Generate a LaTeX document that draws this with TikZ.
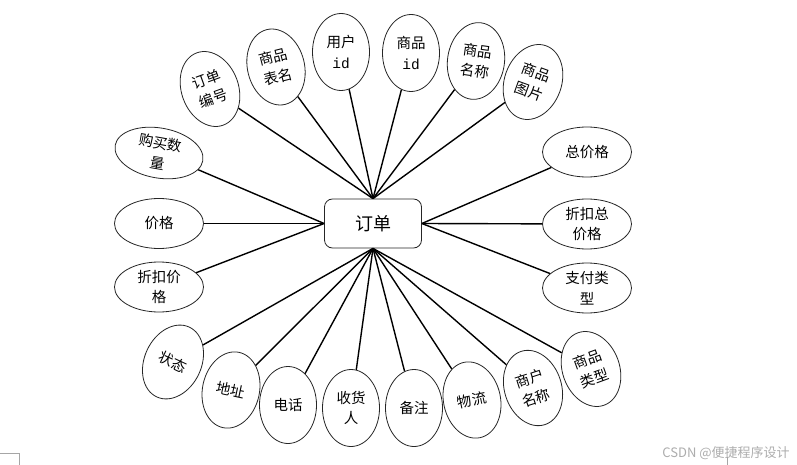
\documentclass[tikz,border=0pt]{standalone}
\usepackage{fontspec}
\setmainfont{Noto Sans CJK SC}
\newfontfamily\latinmono{Liberation Mono}
\usetikzlibrary{shapes.geometric}
\tikzset{
  attr/.style={draw=black!85, line width=0.8pt, ellipse, inner sep=0pt,
    minimum width=57pt, minimum height=77pt, align=center,
    font=\fontsize{14.5}{20.5}\selectfont},
  wideattr/.style={attr, minimum width=89pt, minimum height=50pt},
  link/.style={line width=1.4pt},
  entity/.style={draw=black!85, rounded corners=8pt, minimum width=97pt,
    minimum height=49pt, line width=0.8pt, font=\fontsize{18}{22}\selectfont},
  pagemark/.style={draw=black!35, line width=0.5pt}
}
\begin{document}
\begin{tikzpicture}[x=1pt,y=-1pt]
\useasboundingbox (0,0) rectangle (797,465);
\fill[white] (0,0) rectangle (797,465);

\node[entity] (order) at (373,223.5) {订单};

% top
\node[attr, rotate=20] (a1) at (210,89) {订单\\编号};
\node[attr, rotate=14] (a2) at (276,67) {商品\\表名};
\node[attr] (a3) at (341,52) {用户\\{\latinmono id}};
\node[attr] (a4) at (411,53) {商品\\{\latinmono id}};
\node[attr, rotate=-8] (a5) at (476,61) {商品\\名称};
\node[attr, rotate=-20] (a6) at (533,82) {商品\\图片};

% left
\node[wideattr, rotate=-10] (l1) at (159,153) {购买数\\量};
\node[wideattr] (l2) at (159,223.5) {价格};
\node[wideattr] (l3) at (159,287) {折扣价\\格};

% right
\node[wideattr] (r1) at (587,152) {总价格};
\node[wideattr] (r2) at (587,224) {折扣总\\价格};
\node[wideattr] (r3) at (587,288) {支付类\\型};

% bottom
\node[attr, rotate=-25] (b1) at (173,362) {状态};
\node[attr, rotate=-12] (b2) at (231,390) {地址};
\node[attr] (b3) at (288,405) {电话};
\node[attr] (b4) at (351,408) {收货\\人};
\node[attr] (b5) at (414,408) {备注};
\node[attr, rotate=12] (b6) at (472,400) {物流};
\node[attr, rotate=18] (b7) at (533,388) {商户\\名称};
\node[attr, rotate=20] (b8) at (591,369) {商品\\类型};

\foreach \n in {a1,a2,a3,a4,a5,a6} \draw[link] (order.north) -- (\n);
\foreach \n in {l1,l2,l3} \draw[link] (order.west) -- (\n);
\foreach \n in {r1,r2,r3} \draw[link] (order.east) -- (\n);
\foreach \n in {b1,b2,b3,b4,b5,b6,b7,b8} \draw[link] (order.south) -- (\n);

% page artefacts
\coordinate (c1) at (0,453);
\coordinate (c2) at (19,453);
\coordinate (c3) at (19,465);
\draw[pagemark] (c1) -- (c2) -- (c3);
\node[text=black!32, font=\fontsize{13}{15}\selectfont, inner sep=0pt] (wm) at (726,453) {CSDN @便捷程序设计};
\coordinate (t1) at (727,457);
\coordinate (t2) at (727,465);
\draw[pagemark] (t1) -- (t2);
\end{tikzpicture}
\end{document}
